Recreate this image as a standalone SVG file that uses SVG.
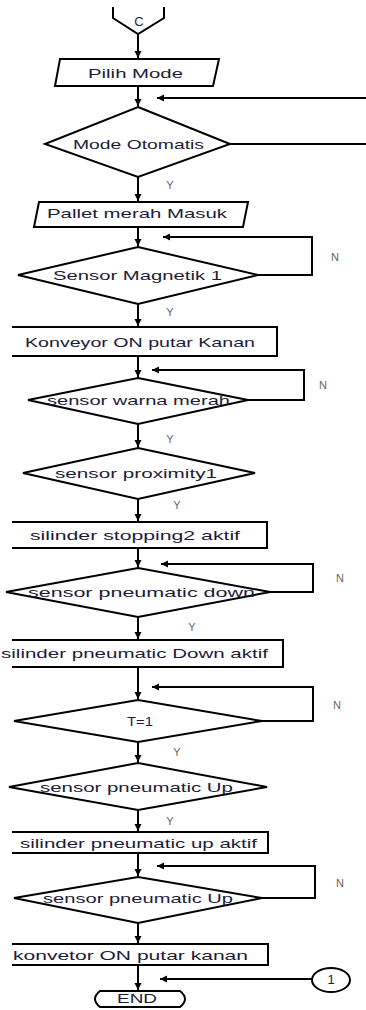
<svg xmlns="http://www.w3.org/2000/svg" width="366" height="1010" viewBox="0 0 366 1010">
<defs>
<marker id="ah" markerUnits="userSpaceOnUse" markerWidth="8" markerHeight="8" refX="7" refY="4" orient="auto">
<path d="M0,0.5 L7,4 L0,7.5 z" fill="#000"/>
</marker>
<style>
.s{fill:#fff;stroke:#000;stroke-width:2;stroke-linejoin:miter}
.o{fill:none;stroke:#000;stroke-width:2}
.c{fill:none;stroke:#000;stroke-width:2}
.t{font-family:"Liberation Sans",Arial,sans-serif;font-size:13.5px;fill:#1c1c3a;text-anchor:start}
.m{font-family:"Liberation Sans",Arial,sans-serif;font-size:13px;fill:#1c1c3a;text-anchor:middle}
.l{font-family:"Liberation Sans",Arial,sans-serif;font-size:11px;fill:#666;text-anchor:middle}
</style>
</defs>
<rect width="366" height="1010" fill="#fff"/>

<g id="connectors">
<path class="c" d="M138,34 V58" marker-end="url(#ah)"/>
<path class="c" d="M138,86 V106" marker-end="url(#ah)"/>
<path class="c" d="M366,98 H157" marker-end="url(#ah)"/>
<path class="c" d="M230,144 H366"/>
<path class="c" d="M138,177 V201" marker-end="url(#ah)"/>
<path class="c" d="M138,227 V246" marker-end="url(#ah)"/>
<path class="c" d="M258,275 H312 V237 H163" marker-end="url(#ah)"/>
<path class="c" d="M138,304 V326" marker-end="url(#ah)"/>
<path class="c" d="M138,356 V377" marker-end="url(#ah)"/>
<path class="c" d="M248,400 H304 V370 H152" marker-end="url(#ah)"/>
<path class="c" d="M138,424 V447" marker-end="url(#ah)"/>
<path class="c" d="M138,499 V521" marker-end="url(#ah)"/>
<path class="c" d="M138,548 V567" marker-end="url(#ah)"/>
<path class="c" d="M270,592 H313 V564 H161" marker-end="url(#ah)"/>
<path class="c" d="M138,617 V639" marker-end="url(#ah)"/>
<path class="c" d="M138,667 V699" marker-end="url(#ah)"/>
<path class="c" d="M262,721 H313 V687 H152" marker-end="url(#ah)"/>
<path class="c" d="M138,742 V762" marker-end="url(#ah)"/>
<path class="c" d="M138,810 V831" marker-end="url(#ah)"/>
<path class="c" d="M138,853 V876" marker-end="url(#ah)"/>
<path class="c" d="M262,898 H315 V866 H157" marker-end="url(#ah)"/>
<path class="c" d="M138,923 V943" marker-end="url(#ah)"/>
<path class="c" d="M138,965 V990" marker-end="url(#ah)"/>
<path class="c" d="M312,979 H160" marker-end="url(#ah)"/>
<text class="l" x="170" y="189">Y</text>
<text class="l" x="335" y="261">N</text>
<text class="l" x="170" y="316">Y</text>
<text class="l" x="323" y="389">N</text>
<text class="l" x="170" y="443">Y</text>
<text class="l" x="177" y="509">Y</text>
<text class="l" x="340" y="582">N</text>
<text class="l" x="192" y="631">Y</text>
<text class="l" x="337" y="709">N</text>
<text class="l" x="177" y="756">Y</text>
<text class="l" x="170" y="825">Y</text>
<text class="l" x="340" y="887">N</text>
</g>

<g id="n-c">
<path class="s" d="M113,7 V18 L138,34 L164,18 V7"/>
<text class="m" x="139" y="26" font-size="11">C</text>
</g>
<g id="n-pilih">
<path class="s" d="M60,59 H219 L213,86 H55 Z"/>
<text class="t" x="88" y="78" textLength="95" lengthAdjust="spacingAndGlyphs">Pilih Mode</text>
</g>
<g id="n-mode">
<path class="s" d="M138,107 L230,144 L138,177 L45,144 Z"/>
<text class="t" x="73" y="149" textLength="131" lengthAdjust="spacingAndGlyphs">Mode Otomatis</text>
</g>
<g id="n-pallet">
<path class="s" d="M39,202 H248 L243,227 H34 Z"/>
<text class="t" x="47" y="218" textLength="180" lengthAdjust="spacingAndGlyphs">Pallet merah Masuk</text>
</g>
<g id="n-magnetik">
<path class="s" d="M138,247 L258,275 L138,304 L18,275 Z"/>
<text class="t" x="53" y="280" textLength="169" lengthAdjust="spacingAndGlyphs">Sensor Magnetik 1</text>
</g>
<g id="n-konveyor">
<rect x="0" y="327" width="277" height="29" fill="#fff"/>
<path class="o" d="M12,327 H277 V356 H12"/>
<text class="t" x="25" y="347" textLength="230" lengthAdjust="spacingAndGlyphs">Konveyor ON putar Kanan</text>
</g>
<g id="n-warna">
<path class="s" d="M138,378 L248,400 L138,424 L28,400 Z"/>
<text class="t" x="47" y="405" textLength="183" lengthAdjust="spacingAndGlyphs">sensor warna merah</text>
</g>
<g id="n-proximity">
<path class="s" d="M138,448 L255,473 L138,499 L23,473 Z"/>
<text class="t" x="55" y="478" textLength="162" lengthAdjust="spacingAndGlyphs">sensor proximity1</text>
</g>
<g id="n-stopping">
<rect x="0" y="522" width="267" height="26" fill="#fff"/>
<path class="o" d="M12,522 H267 V548 H12"/>
<text class="t" x="30" y="540" textLength="210" lengthAdjust="spacingAndGlyphs">silinder stopping2 aktif</text>
</g>
<g id="n-pdown">
<path class="s" d="M138,568 L270,592 L138,617 L6,592 Z"/>
<text class="t" x="28" y="597" textLength="227" lengthAdjust="spacingAndGlyphs">sensor pneumatic down</text>
</g>
<g id="n-silpdown">
<rect x="0" y="640" width="283" height="27" fill="#fff"/>
<path class="o" d="M12,640 H283 V667 H12"/>
<text class="t" x="1" y="658" textLength="267" lengthAdjust="spacingAndGlyphs">silinder pneumatic Down aktif</text>
</g>
<g id="n-t1">
<path class="s" d="M138,700 L262,721 L138,742 L14,721 Z"/>
<text class="t" x="127" y="726" textLength="26" lengthAdjust="spacingAndGlyphs">T=1</text>
</g>
<g id="n-pup1">
<path class="s" d="M138,763 L267,787 L138,810 L9,787 Z"/>
<text class="t" x="40" y="792" textLength="193" lengthAdjust="spacingAndGlyphs">sensor pneumatic Up</text>
</g>
<g id="n-silpup">
<rect x="0" y="832" width="268" height="21" fill="#fff"/>
<path class="o" d="M12,832 H268 V853 H12"/>
<text class="t" x="20" y="848" textLength="237" lengthAdjust="spacingAndGlyphs">silinder pneumatic up aktif</text>
</g>
<g id="n-pup2">
<path class="s" d="M138,877 L262,898 L138,923 L14,898 Z"/>
<text class="t" x="43" y="903" textLength="190" lengthAdjust="spacingAndGlyphs">sensor pneumatic Up</text>
</g>
<g id="n-konvetor">
<rect x="0" y="944" width="268" height="21" fill="#fff"/>
<path class="o" d="M12,944 H268 V965 H12"/>
<text class="t" x="13" y="960" textLength="235" lengthAdjust="spacingAndGlyphs">konvetor ON putar kanan</text>
</g>
<g id="n-end">
<path class="s" d="M100,991 H180 Q190,999 180,1007 H100 Q90,999 100,991 Z"/>
<text class="t" x="117" y="1003" textLength="40" lengthAdjust="spacingAndGlyphs">END</text>
</g>
<g id="n-1">
<ellipse class="s" cx="331" cy="980" rx="19" ry="12"/>
<text class="m" x="331" y="984" font-size="12">1</text>
</g>
</svg>
